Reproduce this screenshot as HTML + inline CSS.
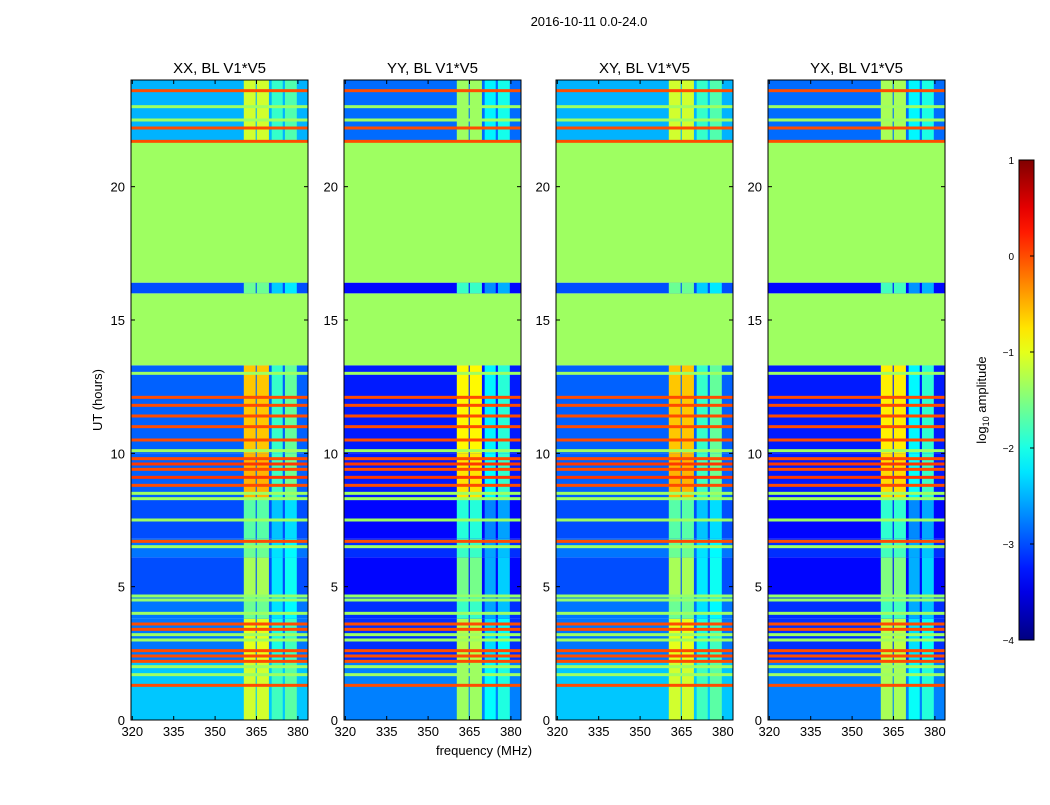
<!DOCTYPE html>
<html><head><meta charset="utf-8"><style>
body{margin:0;background:#fff;font-family:"Liberation Sans",sans-serif;}
svg text{font-family:"Liberation Sans",sans-serif;}
</style></head><body>
<svg id="fig" width="1050" height="800" xmlns="http://www.w3.org/2000/svg">
<text x="589" y="26" font-size="13" text-anchor="middle">2016-10-11 0.0-24.0</text>
<text x="102" y="400" font-size="13" text-anchor="middle" transform="rotate(-90 102 400)">UT (hours)</text>
<text x="484" y="755" font-size="13" text-anchor="middle">frequency (MHz)</text>
<text x="986" y="400" font-size="13" text-anchor="middle" transform="rotate(-90 986 400)">log<tspan font-size="9" dy="3">10</tspan><tspan dy="-3"> amplitude</tspan></text>
</svg>
<script>
// ---- data ----
const panelTitles = ["XX, BL V1*V5","YY, BL V1*V5","XY, BL V1*V5","YX, BL V1*V5"];
const panelLeft = [131,344,556,768];
const xTicks = [320,335,350,365,380];
const yTicks = [0,5,10,15,20];
const cbTicks = [1,0,-1,-2,-3,-4];
// time segments: [t0, t1, background log amp, RFI-column log amp]
const segStart = [0,2.2,3.8,4.6,6.1,6.8,8.3,10.0,13.3,16.0,16.4,21.7];
const segEnd   = [2.2,3.8,4.6,6.1,6.8,8.3,10.0,13.3,16.0,16.4,21.7,24];
const segBg    = [-2.4,-2.8,-2.8,-3.0,-2.8,-3.0,-2.9,-2.9,-1.35,-3.0,-1.35,-2.5];
const segRfi   = [-1.1,-1.0,-1.6,-1.3,-1.6,-1.7,-0.5,-0.6,-1.35,-1.6,-1.35,-1.1];
const segFull  = [0,0,0,0,0,0,0,0,1,0,1,0];
// RFI frequency columns (MHz) and relative strength
const rfiLo = [360.4,365.1,370.5,375.3];
const rfiHi = [364.7,369.5,374.5,379.6];
const rfiW  = [1,1,0.45,0.55];
// full-width stripes: time (h), log amp
const stripeT = [1.3,1.7,2.0,2.2,2.4,2.6,3.0,3.2,3.4,3.6,4.0,4.5,4.65,6.5,6.7,7.5,8.3,8.5,8.8,9.1,9.4,9.6,9.8,10.1,10.5,11.0,11.4,11.8,12.1,13.0,21.7,22.2,22.5,23.0,23.6];
const stripeV = [0,-1.35,-1.35,0,0,0,-1.35,-1.35,0,0,-1.35,-1.4,-1.4,-1.35,0,-1.35,-1.35,-1.35,0,0.1,0,0.1,0,-1.35,0,0,0,0,0,-1.35,0,0,-1.35,-1.35,0];
// per-panel background offset (YY/YX darker)
const panelBgOff = [0,-0.35,0,-0.35];
const panelRfiOff = [0,-0.25,0,-0.2];
// ---- scales ----
const Y0=720,Y1=80,T0=0,T1=24;
function yS(t){return Y0-(t-T0)/(T1-T0)*(Y0-Y1);}
function xS(left,f){return left+1.3+(f-320)*2.76;}
function cbY(v){return 640-(v+4)/5*480;}
function jet(v){
  let x=Math.max(0,Math.min(1,(v+4)/5));
  const c=t=>Math.round(255*Math.max(0,Math.min(1,t)));
  return `rgb(${c(1.5-Math.abs(4*x-3))},${c(1.5-Math.abs(4*x-2))},${c(1.5-Math.abs(4*x-1))})`;
}
const NS="http://www.w3.org/2000/svg";
const svg=document.getElementById('fig');
function mk(tag,attrs,parent){const e=document.createElementNS(NS,tag);for(const k in attrs)e.setAttribute(k,attrs[k]);(parent||svg).appendChild(e);return e;}
panelLeft.forEach((L,p)=>{
  const R=L+177;
  const g=mk('g',{});
  
  
  for(let i=0;i<segStart.length;i++){
    const y=yS(segEnd[i]),h=yS(segStart[i])-y;
    const bg=segFull[i]?segBg[i]:segBg[i]+panelBgOff[p];
    const r=mk('rect',{x:L,y:y,width:177,height:h,fill:jet(bg)},g);
    
    
    if(!segFull[i]){
      for(let j=0;j<rfiLo.length;j++){
        const v=bg+(segRfi[i]+panelRfiOff[p]-bg)*rfiW[j];
        const c=mk('rect',{x:xS(L,rfiLo[j]),y:y,width:xS(L,rfiHi[j])-xS(L,rfiLo[j]),height:h,fill:jet(v)},g);
        
        
      }
    }
  }
  for(let i=0;i<stripeT.length;i++){
    const s=mk('rect',{x:L,y:yS(stripeT[i])-1.5,width:177,height:3,fill:jet(stripeV[i])},g);
    
    
  }
  const fr=mk('rect',{x:L,y:80,width:177,height:640,fill:'none',stroke:'#000','stroke-width':1},g);
  
  
  const t=mk('text',{x:L+88.5,y:73,'font-size':15,'text-anchor':'middle'},g);
  t.textContent=panelTitles[p];
  
  
  xTicks.forEach(f=>{
    const x=xS(L,f);
    mk('line',{x1:x,x2:x,y1:720,y2:716,stroke:'#000'},g);
    mk('line',{x1:x,x2:x,y1:80,y2:84,stroke:'#000'},g);
    const tl=mk('text',{x:x,y:736,'font-size':13,'text-anchor':'middle'},g);
    tl.textContent=f;
    
    
  });
  yTicks.forEach(v=>{
    const y=yS(v);
    mk('line',{x1:L,x2:L+4,y1:y,y2:y,stroke:'#000'},g);
    mk('line',{x1:R-4,x2:R,y1:y,y2:y,stroke:'#000'},g);
    const tl=mk('text',{x:L-6,y:y+5,'font-size':13,'text-anchor':'end'},g);
    tl.textContent=v;
    
    
  });
});
// colorbar
const cb=mk('g',{});


const defs=mk('defs',{},cb);
const lg=mk('linearGradient',{id:'jg',x1:0,y1:1,x2:0,y2:0},defs);
for(let k=0;k<=20;k++){const v=-4+k*5/20;mk('stop',{offset:k/20,'stop-color':jet(v)},lg);}
mk('rect',{x:1019,y:160,width:15,height:480,fill:'url(#jg)',stroke:'#000'},cb);
cbTicks.forEach(v=>{
  const y=cbY(v);
  mk('line',{x1:1030,x2:1034,y1:y,y2:y,stroke:'#000'},cb);
  const tl=mk('text',{x:1014,y:y+4,'font-size':10,'text-anchor':'end'},cb);
  tl.textContent=v<0?'\u2212'+(-v):v;
  
  
});
</script>
</body></html>
